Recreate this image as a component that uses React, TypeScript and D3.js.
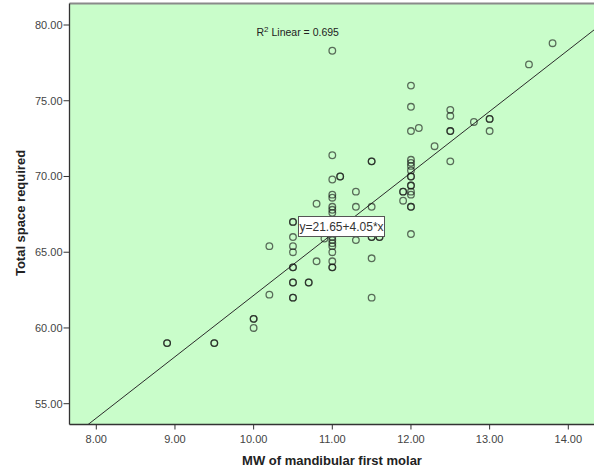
import React from 'react';
import * as d3 from 'd3';

// MW of mandibular first molar (x) and total space required (y)
const mwValues = [
  8.9, 8.9, 9.5, 9.5, 10.0, 10.0, 10.0, 10.2, 10.2,
  10.5, 10.5, 10.5, 10.5, 10.5, 10.5, 10.5, 10.5, 10.5, 10.5, 10.5,
  10.7, 10.7, 10.8, 10.8, 10.9,
  11.0, 11.0, 11.0, 11.0, 11.0, 11.0, 11.0, 11.0, 11.0, 11.0, 11.0, 11.0, 11.0, 11.0, 11.0, 11.0,
  11.1, 11.1, 11.3, 11.3, 11.3,
  11.5, 11.5, 11.5, 11.5, 11.5, 11.5, 11.5, 11.6, 11.6,
  11.9, 11.9, 11.9,
  12.0, 12.0, 12.0, 12.0, 12.0, 12.0, 12.0, 12.0, 12.0, 12.0, 12.0, 12.0, 12.0, 12.0, 12.0, 12.0,
  12.1, 12.3, 12.5, 12.5, 12.5, 12.5, 12.5, 12.8, 13.0, 13.0, 13.0, 13.5, 13.8,
];
const spaceValues = [
  59.0, 59.0, 59.0, 59.0, 60.6, 60.6, 60.0, 65.4, 62.2,
  67.0, 67.0, 66.0, 65.4, 65.0, 64.0, 64.0, 63.0, 63.0, 62.0, 62.0,
  63.0, 63.0, 68.2, 64.4, 65.9,
  78.3, 71.4, 69.8, 68.8, 68.6, 68.0, 67.8, 67.6, 66.0, 65.8, 65.6, 65.4, 65.0, 64.4, 64.0, 64.0,
  70.0, 70.0, 69.0, 68.0, 65.8,
  71.0, 71.0, 68.0, 66.0, 66.0, 64.6, 62.0, 66.0, 66.0,
  69.0, 69.0, 68.4,
  76.0, 74.6, 73.0, 71.1, 70.9, 70.7, 70.4, 70.0, 70.0, 69.4, 69.4, 69.0, 68.8, 68.0, 68.0, 66.2,
  73.2, 72.0, 74.4, 74.0, 73.0, 73.0, 71.0, 73.6, 73.8, 73.8, 73.0, 77.4, 78.8,
];

const xTicks = [8, 9, 10, 11, 12, 13, 14];
const yTicks = [55, 60, 65, 70, 75, 80];

const fitIntercept = 21.65;
const fitSlope = 4.05;
const rSquared = 0.695;

const W = 594;
const H = 469;
const left = 69.5;
const right = 594;
const top = 3.5;
const bottom = 424.5;
const font = 'Arial, "Liberation Sans", sans-serif';

export default function App() {
  const x = d3.scaleLinear().domain([8, 14]).range([96.3, 568.3]);
  const y = d3.scaleLinear().domain([55, 80]).range([403.7, 25]);

  const x0 = x.invert(left);
  const x1 = x.invert(right);
  const fitLine = d3.line<number>()
    .x(d => x(d))
    .y(d => y(fitIntercept + fitSlope * d))([x0, x1]);

  const points = mwValues.map((v, i) => ({ mw: v, space: spaceValues[i] }));

  return (
    <svg width={W} height={H} style={{ position: 'absolute', left: 0, top: 0, background: '#fff' }}>
      <defs>
        <clipPath id="plot">
          <rect x={left} y={top} width={right - left} height={bottom - top} />
        </clipPath>
      </defs>
      <rect x={left} y={top} width={right - left} height={bottom - top} fill="#c9fdca" />
      <line x1={left} x2={right} y1={top} y2={top} stroke="#8a8a8a" strokeWidth={2} />

      <g clipPath="url(#plot)">
        <path d={fitLine || ''} fill="none" stroke="#2b2b2b" strokeWidth={1} />
        {points.map((p, i) => (
          <circle key={i} cx={x(p.mw)} cy={y(p.space)} r={3.3}
            fill="none" stroke="rgba(20,20,20,0.62)" strokeWidth={1.3} />
        ))}
      </g>

      {/* axes */}
      <line x1={left} x2={left} y1={top} y2={bottom} stroke="#333" strokeWidth={1.3} />
      <line x1={left} x2={right} y1={bottom} y2={bottom} stroke="#333" strokeWidth={1.3} />
      {yTicks.map(t => (
        <g key={t}>
          <line x1={left - 6} x2={left} y1={y(t)} y2={y(t)} stroke="#333" />
          <text x={left - 7} y={y(t) + 4} textAnchor="end" fontFamily={font} fontSize={11} fill="#444">
            {t.toFixed(2)}
          </text>
        </g>
      ))}
      {xTicks.map(t => (
        <g key={t}>
          <line x1={x(t)} x2={x(t)} y1={bottom} y2={bottom + 5} stroke="#333" />
          <text x={x(t)} y={bottom + 18} textAnchor="middle" fontFamily={font} fontSize={11} fill="#444">
            {t.toFixed(2)}
          </text>
        </g>
      ))}

      <text x={332} y={465} textAnchor="middle" fontFamily={font} fontSize={13} fontWeight="bold" fill="#222">
        MW of mandibular first molar
      </text>
      <text transform="translate(25,213) rotate(-90)" textAnchor="middle" fontFamily={font} fontSize={13}
        fontWeight="bold" fill="#222">
        Total space required
      </text>

      {/* R squared annotation */}
      <text x={256.5} y={36} fontFamily={font} fontSize={10.5} fill="#222">
        R<tspan dy={-4} fontSize={8}>2</tspan><tspan dy={4}> Linear = {rSquared.toFixed(3)}</tspan>
      </text>

      {/* equation box */}
      <rect x={298.5} y={216.5} width={86} height={20} fill="#fff" stroke="#555" />
      <text x={341.5} y={231} textAnchor="middle" fontFamily={font} fontSize={12} fill="#333">
        y={fitIntercept}+{fitSlope}*x
      </text>
    </svg>
  );
}
